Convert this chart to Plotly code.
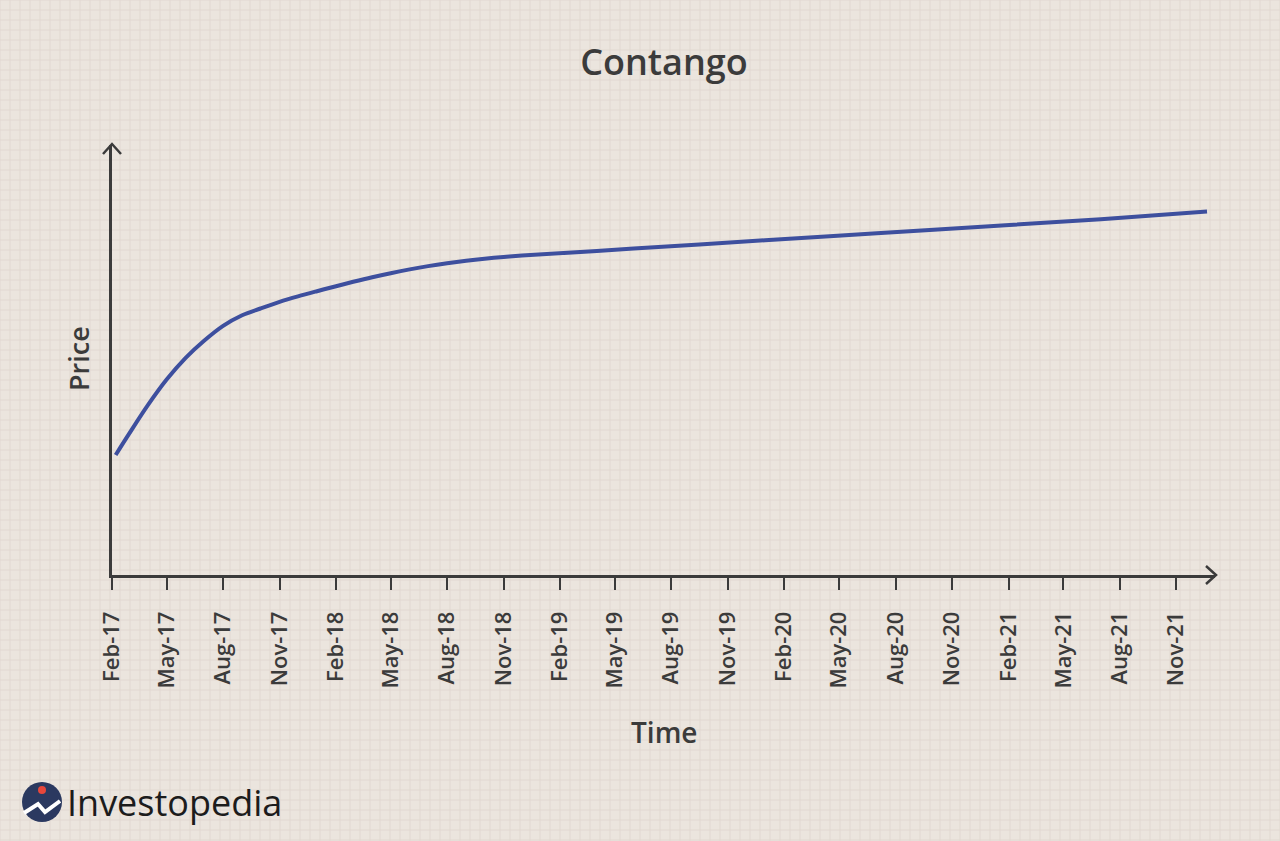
import plotly.graph_objects as go

# price curve (arbitrary price units)
dates = ["2017-02-07", "2017-03-01", "2017-04-01", "2017-05-01", "2017-06-01",
         "2017-07-01", "2017-08-01", "2017-09-01", "2017-10-01", "2017-11-01",
         "2017-12-01", "2018-01-01", "2018-02-01", "2018-03-01", "2018-04-01",
         "2018-05-01", "2018-06-01", "2018-07-01", "2018-08-01", "2018-09-01",
         "2018-10-01", "2018-11-01", "2018-12-01", "2019-06-01", "2020-01-01",
         "2020-07-01", "2021-01-01", "2021-07-01", "2021-12-21"]
prices = [120, 141.3, 170.3, 195.4, 217.1, 234.2, 249.1, 259.7, 266.5, 273.1,
          278.6, 283.8, 288.8, 293.2, 297.8, 301.8, 305.6, 308.9, 311.8, 314.3,
          316.3, 318.0, 319.4, 326.4, 334.7, 341.7, 348.8, 355.8, 363.5]

tick_dates = ["2017-02-01", "2017-05-01", "2017-08-01", "2017-11-01",
              "2018-02-01", "2018-05-01", "2018-08-01", "2018-11-01",
              "2019-02-01", "2019-05-01", "2019-08-01", "2019-11-01",
              "2020-02-01", "2020-05-01", "2020-08-01", "2020-11-01",
              "2021-02-01", "2021-05-01", "2021-08-01", "2021-11-01"]
tick_labels = ["Feb-17", "May-17", "Aug-17", "Nov-17", "Feb-18", "May-18",
               "Aug-18", "Nov-18", "Feb-19", "May-19", "Aug-19", "Nov-19",
               "Feb-20", "May-20", "Aug-20", "Nov-20", "Feb-21", "May-21",
               "Aug-21", "Nov-21"]

W, H = 1280, 841
L, R, T, B = 112, 1215, 145, 575
BG = "#ebe5de"
INK = "#3b3b3b"
FONT = "Open Sans"


def px(x):
    return (x - L) / (R - L)


def py(y):
    return (B - y) / (B - T)


fig = go.Figure()
fig.add_trace(go.Scatter(x=dates, y=prices, mode="lines", line_shape="spline",
                         line=dict(color="#3d4f9e", width=4), hoverinfo="skip"))

shapes = []
# faint graph-paper grid
for gx in range(0, W + 1, 10):
    shapes.append(dict(type="line", xref="paper", yref="paper", layer="below",
                       x0=px(gx), x1=px(gx), y0=py(0), y1=py(H),
                       line=dict(color="#e1d8d1", width=1)))
for gy in range(0, H + 1, 10):
    shapes.append(dict(type="line", xref="paper", yref="paper", layer="below",
                       x0=px(0), x1=px(W), y0=py(gy), y1=py(gy),
                       line=dict(color="#e1d8d1", width=1)))

# arrow heads on the axes
shapes.append(dict(type="path", xref="paper", yref="paper",
                   path=f"M {px(103)} {py(154)} L {px(112)} {py(144)} L {px(121)} {py(154)}",
                   line=dict(color=INK, width=2.5)))
shapes.append(dict(type="path", xref="paper", yref="paper",
                   path=f"M {px(1206)} {py(566)} L {px(1216)} {py(575)} L {px(1206)} {py(584)}",
                   line=dict(color=INK, width=2.5)))

# logo mark
shapes.append(dict(type="circle", xref="paper", yref="paper",
                   x0=px(22), x1=px(62), y0=py(782), y1=py(822),
                   fillcolor="#2b3960", line=dict(width=0)))
shapes.append(dict(type="path", xref="paper", yref="paper",
                   path=f"M {px(24)} {py(813)} L {px(38)} {py(804)} L {px(45)} {py(812)} L {px(60)} {py(801)}",
                   line=dict(color="white", width=4)))
shapes.append(dict(type="circle", xref="paper", yref="paper",
                   x0=px(38), x1=px(46), y0=py(786), y1=py(794),
                   fillcolor="#e8473b", line=dict(width=0)))

annotations = [
    dict(text="Price", x=px(78), y=py(359), xref="paper", yref="paper",
         xanchor="center", yanchor="middle", showarrow=False, textangle=-90,
         font=dict(family=FONT, size=27, color=INK, weight=600)),
    dict(text="Time", x=px(664), y=py(732), xref="paper", yref="paper",
         xanchor="center", yanchor="middle", showarrow=False,
         font=dict(family=FONT, size=28, color=INK, weight=600)),
    dict(text="Investopedia", x=px(65), y=py(802), xref="paper", yref="paper",
         xanchor="left", yanchor="middle", showarrow=False,
         font=dict(family=FONT, size=36, color="#1c1c1c", weight=500)),
]

fig.update_layout(
    width=W, height=H,
    margin=dict(l=L, r=W - R, t=T, b=H - B),
    paper_bgcolor=BG, plot_bgcolor="rgba(0,0,0,0)",
    showlegend=False,
    title=dict(text="Contango", x=px(664), xref="paper", xanchor="center",
               y=1 - 62 / H, yanchor="middle",
               font=dict(family=FONT, size=36, color=INK, weight=600)),
    xaxis=dict(type="date", range=["2017-02-01", "2022-01-03"],
               tickvals=tick_dates, ticktext=tick_labels, tickangle=-90,
               ticks="outside", ticklen=12, tickwidth=2, tickcolor=INK,
               ticklabelstandoff=13,
               tickfont=dict(family=FONT, size=22, color=INK, weight=600),
               showline=True, linecolor=INK, linewidth=2.5,
               showgrid=False, zeroline=False),
    yaxis=dict(range=[0, 430], showticklabels=False, ticks="",
               showline=True, linecolor=INK, linewidth=2.5,
               showgrid=False, zeroline=False),
    shapes=shapes,
    annotations=annotations,
)

fig.write_html("out.html", config={"displayModeBar": False},
               post_script="document.body.style.margin='0';")
